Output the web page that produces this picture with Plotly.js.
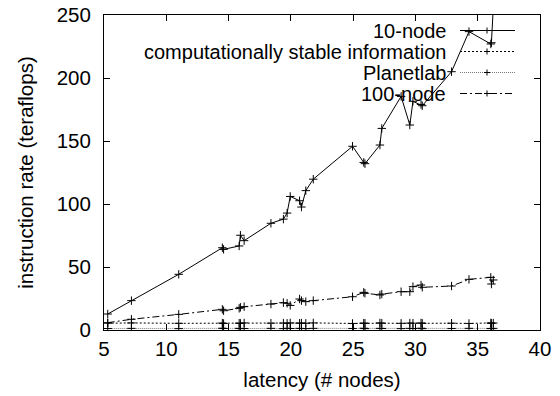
<!DOCTYPE html>
<html>
<head>
<meta charset="utf-8">
<script src="https://cdn.plot.ly/plotly-3.0.1.min.js"></script>
<style>html,body{margin:0;padding:0;background:#fff;}#chart{width:560px;height:396px;}</style>
</head>
<body>
<div id="chart"></div>
<script>
// ---- data ----
const seriesNames = ["10-node", "computationally stable information", "Planetlab", "100-node"];

const xNodes = [5.3, 7.2, 11.0, 14.5, 14.6, 15.85, 15.95, 16.25, 18.4, 19.4, 19.7, 19.95,
  20.7, 20.85, 21.2, 21.8, 24.95, 25.85, 25.95, 27.15, 27.3, 28.85, 29.55, 29.8,
  30.45, 30.55, 32.9, 34.3, 36.05, 36.1, 36.25];

const tenNode = [12.7, 23.3, 44.2, 65.3, 64.0, 66.7, 75.2, 70.9, 84.7, 88.0, 92.8, 106.0,
  102.6, 97.6, 110.6, 119.7, 145.8, 133.0, 132.0, 146.8, 160.0, 185.4, 162.7, 181.5,
  179.0, 178.0, 205.0, 236.8, 227.0, 228.0, 256.0];

const stableInfo = [5.4, 5.6, 5.3, 5.5, 5.2, 5.4, 5.3, 5.6, 5.4, 5.5, 5.3, 5.6,
  5.4, 5.5, 5.3, 5.6, 5.2, 5.5, 5.3, 5.6, 5.4, 5.3, 5.5, 5.4,
  5.6, 5.3, 5.4, 5.2, 5.6, 5.3, 5.5];

const planetlab = [1.2, 1.3, 1.1, 1.4, 1.2, 1.3, 1.1, 1.2, 1.3, 1.1, 1.4, 1.2,
  1.3, 1.2, 1.1, 1.3, 1.2, 1.4, 1.1, 1.3, 1.2, 1.1, 1.3, 1.2,
  1.4, 1.1, 1.2, 1.3, 1.2, 1.1, 1.3];

const hundredNode = [5.8, 8.5, 12.4, 16.4, 15.3, 17.2, 18.0, 18.5, 20.6, 21.7, 21.2, 19.5,
  24.6, 23.3, 22.5, 23.3, 26.4, 29.9, 29.2, 27.8, 28.5, 30.4, 30.4, 34.4,
  35.7, 33.9, 34.9, 40.2, 41.8, 36.5, 39.7];

const xTicks = [5, 10, 15, 20, 25, 30, 35, 40];
const yTicks = [0, 50, 100, 150, 200, 250];

// ---- styles ----
const FONT = "Liberation Sans, Arial, Helvetica, sans-serif";
const FS = 20.5;
const LFS = 20;
const styles = [
  {color: "#000", dash: "solid", width: 1},
  {color: "#000", dash: "2px,2px", width: 1},
  {color: "#777", dash: "1px,1px", width: 1},
  {color: "#000", dash: "7px,3px,2px,3px", width: 1}
];
const ys = [tenNode, stableInfo, planetlab, hundredNode];

const traces = ys.map((y, i) => ({
  type: "scatter",
  mode: "lines+markers",
  name: seriesNames[i],
  x: xNodes,
  y: y,
  line: {color: styles[i].color, dash: styles[i].dash, width: styles[i].width},
  marker: {symbol: "cross-thin", size: 6, color: "#000", line: {width: 1, color: "#000"}},
  cliponaxis: true,
  showlegend: false
}));

// ---- hand-built gnuplot-style legend (text right, sample on the right) ----
const L = 104, R = 540, T = 15, B = 330;
const pw = R - L, ph = B - T;
const px = v => (v - L) / pw;
const py = v => (B - v) / ph;
const rowsY = [30.5, 51.5, 72.5, 93.5];
const textRight = 447, sx0 = 460, sx1 = 515, mx = 487;
const annotations = [];
const shapes = [];
rowsY.forEach((yy, i) => {
  annotations.push({
    xref: "paper", yref: "paper", x: px(textRight), y: py(yy),
    xanchor: "right", yanchor: "middle", showarrow: false, borderpad: 0,
    text: seriesNames[i], font: {family: FONT, size: LFS, color: "#000"}
  });
  shapes.push({type: "line", xref: "paper", yref: "paper",
    x0: px(sx0), x1: px(sx1), y0: py(yy), y1: py(yy),
    line: {color: styles[i].color, dash: styles[i].dash, width: 1}});
  shapes.push({type: "line", xref: "paper", yref: "paper",
    x0: px(mx - 3), x1: px(mx + 3), y0: py(yy), y1: py(yy),
    line: {color: "#000", width: 1}});
  shapes.push({type: "line", xref: "paper", yref: "paper",
    x0: px(mx), x1: px(mx), y0: py(yy - 3), y1: py(yy + 3),
    line: {color: "#000", width: 1}});
});

const axisCommon = {
  showgrid: false, zeroline: false, showline: true, linecolor: "#000", linewidth: 1,
  mirror: "ticks", ticks: "inside", ticklen: 6, tickwidth: 1, tickcolor: "#000",
  tickfont: {family: FONT, size: FS, color: "#000"}
};

const layout = {
  width: 560, height: 396,
  margin: {l: L, r: 560 - R, t: T, b: 396 - B, pad: 0},
  paper_bgcolor: "#fff", plot_bgcolor: "#fff",
  font: {family: FONT, size: FS, color: "#000"},
  showlegend: false,
  xaxis: Object.assign({}, axisCommon, {
    range: [5, 40], tickvals: xTicks, ticktext: xTicks.map(String),
    ticklabelstandoff: 0,
    title: {text: "latency (# nodes)", font: {family: FONT, size: FS, color: "#000"}, standoff: 14}
  }),
  yaxis: Object.assign({}, axisCommon, {
    range: [0, 250], tickvals: yTicks, ticktext: yTicks.map(String),
    ticklabelstandoff: 8,
    title: {text: "instruction rate (teraflops)", font: {family: FONT, size: FS, color: "#000"}, standoff: 17}
  }),
  annotations: annotations,
  shapes: shapes
};

Plotly.newPlot("chart", traces, layout, {displayModeBar: false, staticPlot: true});
</script>
</body>
</html>
